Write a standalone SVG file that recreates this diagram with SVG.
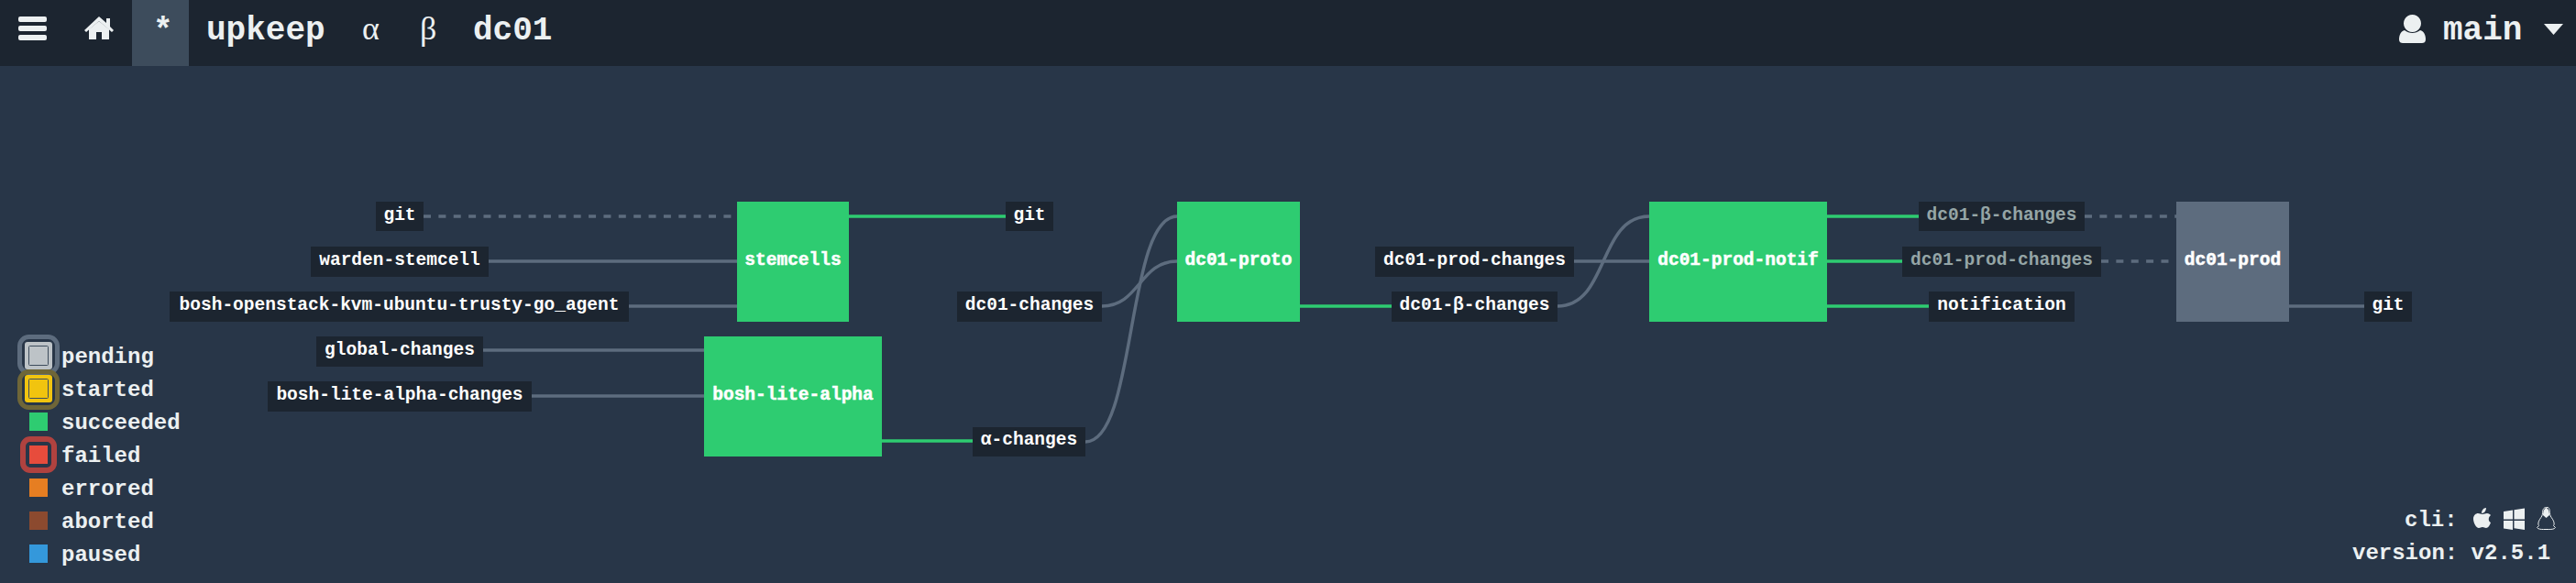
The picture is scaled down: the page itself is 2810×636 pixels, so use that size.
<svg xmlns="http://www.w3.org/2000/svg" width="2810" height="636" viewBox="0 0 2810 636">
<style>
text{font-family:"Liberation Mono","DejaVu Sans Mono",monospace}
.bar{fill:#1c2530}
.nav{font-size:36px;fill:#ecf0f1;font-weight:bold}
.greek{font-family:"Liberation Serif","DejaVu Serif",serif;font-weight:normal}
.ico{fill:#ecf0f1}
.lb{fill:#1c2530}
.lt{font-size:19.5px;fill:#fff;font-weight:bold;text-anchor:middle;dominant-baseline:central}
.dim{fill:#95a5a6}
.job{font-size:19.5px;font-weight:bold;fill:#fff;text-anchor:middle;dominant-baseline:central;stroke:#fff;stroke-width:.5px}
.ok{fill:#2ecc71}
.pend{fill:#5d6c7e}
.e{fill:none;stroke:#5d6c7e;stroke-width:3.5}
.g{fill:none;stroke:#2ecc71;stroke-width:3.5}
.d{stroke-dasharray:8 8.37}
.leg{font-size:24px;fill:#ecf0f1;font-weight:bold}
.foot{font-size:24px;fill:#ecf0f1;font-weight:bold}
</style>
<rect width="2810" height="636" fill="#283648"/>
<g id="topbar">
<rect class="bar" width="2810" height="72"/>
<rect x="144" width="62" height="72" fill="#3d4c5c"/>
<g class="ico"><rect x="20" y="18" width="31" height="6" rx="2"/><rect x="20" y="28" width="31" height="6" rx="2"/><rect x="20" y="38" width="31" height="6" rx="2"/>
<path d="M108 18l8 7v-5h4v9l4 4-2 2-14-12-14 12-2-2z"/><path d="M97 43V32l11-9 11 9v11h-8v-8h-6v8z"/>
<path d="M2631.500 16a9.500 9.500 0 1 1-.01 0zM2623 33c5 4 12 4 17 0 4 1 6 5 6 10 0 3-2 4-4 4h-21c-2 0-4-1-4-4 0-5 2-9 6-10z"/>
<path d="M2775 26h21l-10.500 12z"/></g>
<text class="nav" x="167" y="44">*</text>
<text class="nav" x="225" y="43">upkeep</text>
<text class="nav greek" x="395" y="43">α</text>
<text class="nav greek" x="458" y="43">β</text>
<text class="nav" x="516" y="43">dc01</text>
<text class="nav" x="2665" y="43">main</text>
</g>
<g id="connectors">
<path class="e d" d="M462 236H798"/>
<path class="e" d="M533 285H804"/>
<path class="e" d="M686 334H804"/>
<path class="e" d="M527 382H768"/>
<path class="e" d="M580 432H768"/>
<path class="g" d="M926 236H1097"/>
<path class="g" d="M962 481H1061"/>
<path class="e" d="M1202 334C1243 334 1243 285 1284 285"/>
<path class="e" d="M1184 482C1240 482 1228 236 1284 236"/>
<path class="g" d="M1418 334H1518"/>
<path class="e" d="M1717 285H1799"/>
<path class="e" d="M1699 334C1755 334 1743 236 1799 236"/>
<path class="g" d="M1993 236H2093"/>
<path class="g" d="M1993 285H2075"/>
<path class="g" d="M1993 334H2104"/>
<path class="e d" d="M2274 236H2374"/>
<path class="e d" d="M2292 285H2366"/>
<path class="e" d="M2497 334H2579"/>
</g>
<g id="in-git"><rect class="lb" x="410" y="220" width="52" height="32"/><text class="lt" x="436" y="235">git</text></g>
<g id="in-warden"><rect class="lb" x="339" y="269" width="194" height="33"/><text class="lt" x="436" y="284">warden-stemcell</text></g>
<g id="in-bosh-openstack"><rect class="lb" x="185" y="318" width="501" height="33"/><text class="lt" x="435.500" y="333">bosh-openstack-kvm-ubuntu-trusty-go_agent</text></g>
<g id="in-global"><rect class="lb" x="345" y="367" width="182" height="33"/><text class="lt" x="436" y="382">global-changes</text></g>
<g id="in-bla"><rect class="lb" x="292" y="416" width="288" height="33"/><text class="lt" x="436" y="431">bosh-lite-alpha-changes</text></g>
<g id="stemcells"><rect class="ok" x="804" y="220" width="122" height="131"/><text class="job" x="865" y="284">stemcells</text></g>
<g id="bosh-lite-alpha"><rect class="ok" x="768" y="367" width="194" height="131"/><text class="job" x="865" y="431">bosh-lite-alpha</text></g>
<g id="out-git"><rect class="lb" x="1097" y="220" width="52" height="32"/><text class="lt" x="1123" y="235">git</text></g>
<g id="dc01-changes"><rect class="lb" x="1044" y="318" width="158" height="33"/><text class="lt" x="1123" y="333">dc01-changes</text></g>
<g id="alpha-changes"><rect class="lb" x="1061" y="466" width="123" height="32"/><text class="lt" x="1122.500" y="480">α-changes</text></g>
<g id="dc01-proto"><rect class="ok" x="1284" y="220" width="134" height="131"/><text class="job" x="1351" y="284">dc01-proto</text></g>
<g id="dc01-prod-changes-in"><rect class="lb" x="1500" y="269" width="217" height="33"/><text class="lt" x="1608.500" y="284">dc01-prod-changes</text></g>
<g id="beta-changes-in"><rect class="lb" x="1518" y="318" width="181" height="33"/><text class="lt" x="1608.500" y="333">dc01-β-changes</text></g>
<g id="dc01-prod-notif"><rect class="ok" x="1799" y="220" width="194" height="131"/><text class="job" x="1896" y="284">dc01-prod-notif</text></g>
<g id="beta-changes-out"><rect class="lb" x="2093" y="220" width="181" height="32"/><text class="lt dim" x="2183.500" y="235">dc01-β-changes</text></g>
<g id="dc01-prod-changes-out"><rect class="lb" x="2075" y="269" width="217" height="33"/><text class="lt dim" x="2183.500" y="284">dc01-prod-changes</text></g>
<g id="notification"><rect class="lb" x="2104" y="318" width="159" height="33"/><text class="lt" x="2183.500" y="333">notification</text></g>
<g id="dc01-prod"><rect class="pend" x="2374" y="220" width="123" height="131"/><text class="job" x="2435.500" y="284">dc01-prod</text></g>
<g id="prod-git"><rect class="lb" x="2579" y="318" width="52" height="33"/><text class="lt" x="2605" y="333">git</text></g>
<g id="legend">
<rect x="21.500" y="367.500" width="41" height="39" rx="10" fill="none" stroke="#5d6c7e" stroke-width="5"/>
<rect x="27" y="373" width="30" height="30" rx="3" fill="#bdc3c7"/>
<rect x="31.500" y="377.500" width="21" height="21" rx="1" fill="none" stroke="#3d4c5c" stroke-width="1"/>
<rect x="21.500" y="405.500" width="41" height="39" rx="10" fill="none" stroke="#6f6638" stroke-width="5"/>
<rect x="27" y="409" width="30" height="30" rx="3" fill="#f1c40f"/>
<rect x="31.500" y="413.500" width="21" height="21" rx="1" fill="none" stroke="#3d4c5c" stroke-width="1"/>
<rect x="32" y="450" width="20" height="20" fill="#2ecc71"/>
<rect x="25" y="479" width="34" height="34" rx="8" fill="none" stroke="#b0423f" stroke-width="6"/>
<rect x="32" y="486" width="20" height="20" fill="#e74c3c"/>
<rect x="32" y="522" width="20" height="20" fill="#e67e22"/>
<rect x="32" y="558" width="20" height="20" fill="#8c4a2f"/>
<rect x="32" y="594" width="20" height="20" fill="#3498db"/>
<text class="leg" x="67" y="396">pending</text>
<text class="leg" x="67" y="432">started</text>
<text class="leg" x="67" y="468">succeeded</text>
<text class="leg" x="67" y="504">failed</text>
<text class="leg" x="67" y="540">errored</text>
<text class="leg" x="67" y="576">aborted</text>
<text class="leg" x="67" y="612">paused</text>
</g>
<g id="footer">
<text class="foot" x="2623" y="574">cli:</text>
<text class="foot" x="2566" y="610">version: v2.5.1</text>
<path class="ico" d="M2712 554c0 3-2 6-5 6 0-3 2-6 5-6zM2708 561c2 0 3-1 5-1 2 0 3 1 4 2-3 2-3 7 0 8-1 3-3 6-5 6-2 0-2-1-4-1s-2 1-4 1c-3 0-6-6-6-10 0-4 3-6 5-6 2 0 3 1 5 1z"/>
<path class="ico" d="M2731 558l10-1.500v10h-10zM2742.500 556.200l11.500-1.700v12h-11.500zM2731 568h10v10l-10-1.500zM2742.500 568h11.500v10l-11.500-1.700z"/>
<path d="M2777.500 553.500c-3 0-4 3-4 6 0 3-1 4-3 7-2 3-2 6-1 7l-2 2c1 2 5 2 7 2h6c2 0 6 0 7-2l-2-2c1-1 1-4-1-7-2-3-3-4-3-7 0-3-1-6-2-6z" fill="#283648" stroke="#ecf0f1" stroke-width="1"/>
<path class="ico" d="M2774 562c0-5 2-8 3.500-8s3.500 3 3.500 8l-3.500 3z"/>
</g>
</svg>
